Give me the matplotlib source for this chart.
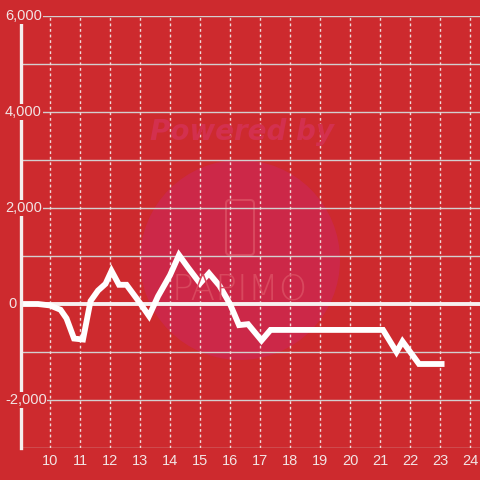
import matplotlib
matplotlib.use("Agg")
import matplotlib.pyplot as plt
import matplotlib.transforms as mtransforms
from matplotlib.patches import Circle, FancyBboxPatch

# hourly balance track
hours = [9.0, 9.6, 10.0, 10.35, 10.55, 10.8, 11.1, 11.35, 11.6, 11.85, 12.05,
         12.3, 12.55, 13.0, 13.3, 13.6, 14.0, 14.3, 14.6, 15.0, 15.3, 15.65,
         16.0, 16.3, 16.6, 17.05, 17.35, 21.1, 21.55, 21.75, 22.3, 23.15]
balance = [0, 0, -30, -120, -300, -720, -740, 60, 280, 420, 690,
           400, 400, 20, -250, 160, 600, 1020, 760, 430, 640, 380,
           0, -440, -420, -760, -540, -540, -1000, -780, -1250, -1250]

x_ticks = list(range(10, 25))
y_ticks = [-2000, 0, 2000, 4000, 6000]
y_grid = [-3000, -2000, -1000, 1000, 2000, 3000, 4000, 5000, 6000]

bg = "#CD2A2E"
label_color = "#F2E4E4"
font = "Liberation Sans"

fig = plt.figure(figsize=(4.8, 4.8), dpi=100, facecolor=bg)
ax = fig.add_axes([21 / 480, 32 / 480, 1 - 21 / 480, 432 / 480])
ax.set_facecolor(bg)
ax.set_xlim(9.033, 24.333)
ax.set_ylim(-3000, 6000)

# watermark
ax.add_patch(Circle((0.5, 1 - 260 / 480), 100 / 480, transform=fig.transFigure,
                    facecolor="#CC2848", edgecolor="none", zorder=0.1))
fig.text(0.505, 1 - 132 / 480, "Powered by", ha="center", va="center",
         fontsize=20, fontweight="bold", style="italic", color="#D3304E",
         family="DejaVu Sans", zorder=0.2)
ax.add_patch(FancyBboxPatch((226 / 480, 1 - 255 / 480), 28 / 480, 55 / 480,
                            boxstyle="round,pad=0,rounding_size=0.008",
                            transform=fig.transFigure, facecolor="none",
                            edgecolor="#D8485E", lw=1.5, zorder=0.2))
fig.text(0.5, 1 - 289 / 480, "PAPIMO", ha="center", va="center",
         fontsize=26, fontweight="light", color="#D8485E",
         family="DejaVu Sans", zorder=0.2)

# grid
for y in y_grid:
    ax.axhline(y, color="#D3CFCF", lw=1.0, zorder=0.5)
for x in x_ticks:
    ax.axvline(x, color="#F0DADA", lw=1.0, ls=(0, (2, 2)), zorder=0.5)
ax.axhline(0, color="#F7F0F0", lw=2.8, zorder=0.6)

ax.plot(hours, balance, color="white", lw=4.2, solid_joinstyle="miter",
        solid_capstyle="butt", zorder=3)

for s in ["top", "right", "bottom"]:
    ax.spines[s].set_visible(False)
ax.spines["left"].set_color("#F5EEEE")
ax.spines["left"].set_linewidth(2.4)
ax.spines["left"].set_zorder(4)

ax.set_xticks([])
ax.set_yticks([])

off = mtransforms.ScaledTranslation(0, -6 / 100, fig.dpi_scale_trans)
for x in x_ticks:
    ax.text(x, -3000, str(x), transform=ax.transData + off, ha="center",
            va="top", fontsize=10.5, color=label_color, family=font)

ytrans = mtransforms.blended_transform_factory(fig.transFigure, ax.transData)
for y in y_ticks:
    xpos = 8 / 480 if y == 0 else 5 / 480
    fig.text(xpos, y, f"{y:,}", ha="left", va="center", transform=ytrans,
             fontsize=10.5, color=label_color, family=font,
             bbox=dict(facecolor=bg, edgecolor="none", pad=0.5), zorder=5)

fig.savefig("out.png", dpi=100, facecolor=bg)
